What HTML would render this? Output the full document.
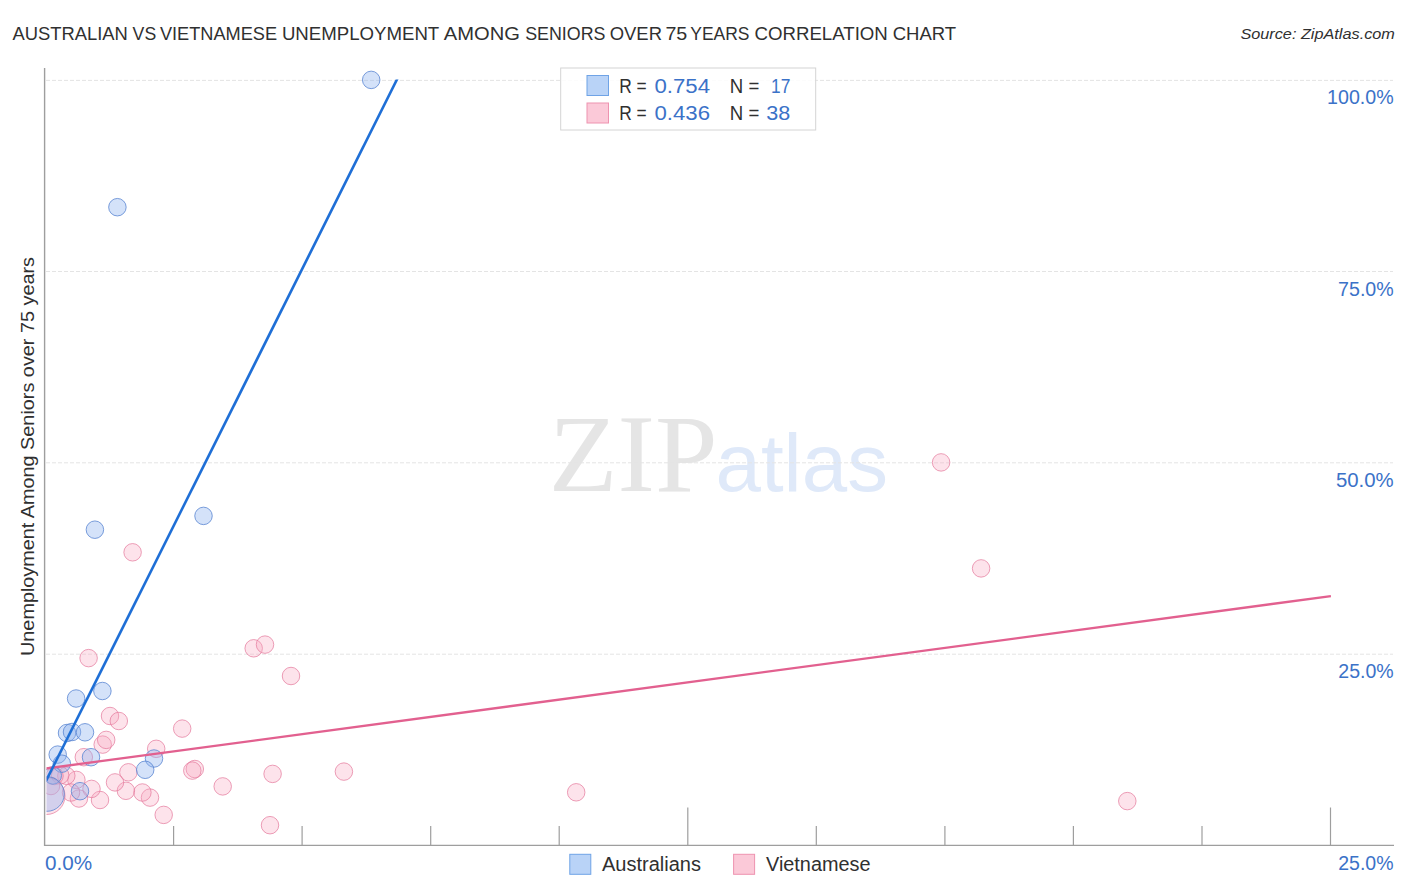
<!DOCTYPE html>
<html><head><meta charset="utf-8"><title>Australian vs Vietnamese Unemployment Among Seniors over 75 years Correlation Chart</title>
<style>
html,body{margin:0;padding:0;background:#fff;}
body{width:1406px;height:892px;overflow:hidden;font-family:"Liberation Sans",sans-serif;}
svg{display:block;}
text{font-family:"Liberation Sans",sans-serif;}
.serif{font-family:"Liberation Serif",serif;}
</style></head><body>
<svg width="1406" height="892" viewBox="0 0 1406 892">
<rect width="1406" height="892" fill="#ffffff"/>
<defs><clipPath id="top"><rect x="46.5" y="79.6" width="1350" height="770"/></clipPath><clipPath id="plot"><rect x="46.5" y="60" width="1350" height="784.5"/></clipPath></defs>

<text y="40" font-size="18.8" fill="#303030">
<tspan x="12.4" textLength="115.4" lengthAdjust="spacingAndGlyphs">AUSTRALIAN</tspan> 
<tspan x="132.6" textLength="23.6" lengthAdjust="spacingAndGlyphs">VS</tspan> 
<tspan x="159.9" textLength="117.2" lengthAdjust="spacingAndGlyphs">VIETNAMESE</tspan> 
<tspan x="281.9" textLength="157.0" lengthAdjust="spacingAndGlyphs">UNEMPLOYMENT</tspan> 
<tspan x="443.8" textLength="76.1" lengthAdjust="spacingAndGlyphs">AMONG</tspan> 
<tspan x="525.2" textLength="80.3" lengthAdjust="spacingAndGlyphs">SENIORS</tspan> 
<tspan x="609.7" textLength="52.3" lengthAdjust="spacingAndGlyphs">OVER</tspan> 
<tspan x="665.4" textLength="21.9" lengthAdjust="spacingAndGlyphs">75</tspan> 
<tspan x="690.3" textLength="59.2" lengthAdjust="spacingAndGlyphs">YEARS</tspan> 
<tspan x="754.5" textLength="133.3" lengthAdjust="spacingAndGlyphs">CORRELATION</tspan> 
<tspan x="892.7" textLength="63.4" lengthAdjust="spacingAndGlyphs">CHART</tspan>
</text>
<text x="1240.4" y="39" font-size="15.2" font-style="italic" fill="#303030" textLength="154.5" lengthAdjust="spacingAndGlyphs">Source: ZipAtlas.com</text>
<text class="serif" x="548.8" y="490.5" font-size="110" fill="#e5e5e5" textLength="168.8" lengthAdjust="spacingAndGlyphs">ZIP</text>
<text x="715.5" y="491" font-size="81" fill="#dfe9f9" textLength="172.5" lengthAdjust="spacingAndGlyphs">atlas</text>
<line x1="46" x2="1393" y1="80.4" y2="80.4" stroke="#e4e4e4" stroke-width="1" stroke-dasharray="4,2"/>
<line x1="46" x2="1393" y1="271.5" y2="271.5" stroke="#e4e4e4" stroke-width="1" stroke-dasharray="4,2"/>
<line x1="46" x2="1393" y1="462.8" y2="462.8" stroke="#e4e4e4" stroke-width="1" stroke-dasharray="4,2"/>
<line x1="46" x2="1393" y1="654.2" y2="654.2" stroke="#e4e4e4" stroke-width="1" stroke-dasharray="4,2"/>
<line x1="44.6" x2="44.6" y1="68" y2="846" stroke="#9e9e9e" stroke-width="1.4"/>
<line x1="44" x2="1394" y1="845.4" y2="845.4" stroke="#9e9e9e" stroke-width="1.4"/>
<line x1="173.6" x2="173.6" y1="826" y2="845" stroke="#9e9e9e" stroke-width="1.2"/>
<line x1="302.1" x2="302.1" y1="826" y2="845" stroke="#9e9e9e" stroke-width="1.2"/>
<line x1="430.7" x2="430.7" y1="826" y2="845" stroke="#9e9e9e" stroke-width="1.2"/>
<line x1="559.2" x2="559.2" y1="826" y2="845" stroke="#9e9e9e" stroke-width="1.2"/>
<line x1="687.8" x2="687.8" y1="807.5" y2="845" stroke="#9e9e9e" stroke-width="1.2"/>
<line x1="816.3" x2="816.3" y1="826" y2="845" stroke="#9e9e9e" stroke-width="1.2"/>
<line x1="944.9" x2="944.9" y1="826" y2="845" stroke="#9e9e9e" stroke-width="1.2"/>
<line x1="1073.4" x2="1073.4" y1="826" y2="845" stroke="#9e9e9e" stroke-width="1.2"/>
<line x1="1202.0" x2="1202.0" y1="826" y2="845" stroke="#9e9e9e" stroke-width="1.2"/>
<line x1="1330.5" x2="1330.5" y1="807.5" y2="845" stroke="#9e9e9e" stroke-width="1.2"/>
<text transform="translate(34.2,656) rotate(-90)" font-size="19" fill="#303030" textLength="399" lengthAdjust="spacingAndGlyphs">Unemployment Among Seniors over 75 years</text>
<text x="1327.1" y="104.3" font-size="19.5" fill="#3b72c8" textLength="66.6" lengthAdjust="spacingAndGlyphs">100.0%</text>
<text x="1338.1" y="295.5" font-size="19.5" fill="#3b72c8" textLength="55.6" lengthAdjust="spacingAndGlyphs">75.0%</text>
<text x="1335.9" y="486.8" font-size="19.5" fill="#3b72c8" textLength="57.8" lengthAdjust="spacingAndGlyphs">50.0%</text>
<text x="1338.3" y="678" font-size="19.5" fill="#3b72c8" textLength="55.4" lengthAdjust="spacingAndGlyphs">25.0%</text>
<text x="45" y="870" font-size="19.5" fill="#3b72c8" textLength="47.2" lengthAdjust="spacingAndGlyphs">0.0%</text>
<text x="1393.5" y="870" font-size="19.5" fill="#3b72c8" text-anchor="end">25.0%</text>
<g clip-path="url(#plot)">
<circle cx="941.1" cy="462.4" r="8.75" fill="#f9a8c0" fill-opacity="0.32" stroke="#e57a9c" stroke-opacity="0.72" stroke-width="1"/>
<circle cx="981.1" cy="568.4" r="8.75" fill="#f9a8c0" fill-opacity="0.32" stroke="#e57a9c" stroke-opacity="0.72" stroke-width="1"/>
<circle cx="1127.3" cy="801.1" r="8.75" fill="#f9a8c0" fill-opacity="0.32" stroke="#e57a9c" stroke-opacity="0.72" stroke-width="1"/>
<circle cx="576.2" cy="792.3" r="8.75" fill="#f9a8c0" fill-opacity="0.32" stroke="#e57a9c" stroke-opacity="0.72" stroke-width="1"/>
<circle cx="343.9" cy="771.6" r="8.75" fill="#f9a8c0" fill-opacity="0.32" stroke="#e57a9c" stroke-opacity="0.72" stroke-width="1"/>
<circle cx="272.6" cy="773.9" r="8.75" fill="#f9a8c0" fill-opacity="0.32" stroke="#e57a9c" stroke-opacity="0.72" stroke-width="1"/>
<circle cx="270" cy="825.2" r="8.75" fill="#f9a8c0" fill-opacity="0.32" stroke="#e57a9c" stroke-opacity="0.72" stroke-width="1"/>
<circle cx="222.7" cy="786.4" r="8.75" fill="#f9a8c0" fill-opacity="0.32" stroke="#e57a9c" stroke-opacity="0.72" stroke-width="1"/>
<circle cx="194.8" cy="769" r="8.75" fill="#f9a8c0" fill-opacity="0.32" stroke="#e57a9c" stroke-opacity="0.72" stroke-width="1"/>
<circle cx="192.3" cy="770.6" r="8.75" fill="#f9a8c0" fill-opacity="0.32" stroke="#e57a9c" stroke-opacity="0.72" stroke-width="1"/>
<circle cx="182.2" cy="728.6" r="8.75" fill="#f9a8c0" fill-opacity="0.32" stroke="#e57a9c" stroke-opacity="0.72" stroke-width="1"/>
<circle cx="163.7" cy="814.9" r="8.75" fill="#f9a8c0" fill-opacity="0.32" stroke="#e57a9c" stroke-opacity="0.72" stroke-width="1"/>
<circle cx="156.2" cy="748.8" r="8.75" fill="#f9a8c0" fill-opacity="0.32" stroke="#e57a9c" stroke-opacity="0.72" stroke-width="1"/>
<circle cx="150" cy="797.6" r="8.75" fill="#f9a8c0" fill-opacity="0.32" stroke="#e57a9c" stroke-opacity="0.72" stroke-width="1"/>
<circle cx="142.4" cy="792.5" r="8.75" fill="#f9a8c0" fill-opacity="0.32" stroke="#e57a9c" stroke-opacity="0.72" stroke-width="1"/>
<circle cx="128.4" cy="772.3" r="8.75" fill="#f9a8c0" fill-opacity="0.32" stroke="#e57a9c" stroke-opacity="0.72" stroke-width="1"/>
<circle cx="125.9" cy="790.8" r="8.75" fill="#f9a8c0" fill-opacity="0.32" stroke="#e57a9c" stroke-opacity="0.72" stroke-width="1"/>
<circle cx="115" cy="782.4" r="8.75" fill="#f9a8c0" fill-opacity="0.32" stroke="#e57a9c" stroke-opacity="0.72" stroke-width="1"/>
<circle cx="100" cy="800" r="8.75" fill="#f9a8c0" fill-opacity="0.32" stroke="#e57a9c" stroke-opacity="0.72" stroke-width="1"/>
<circle cx="91.5" cy="788.9" r="8.75" fill="#f9a8c0" fill-opacity="0.32" stroke="#e57a9c" stroke-opacity="0.72" stroke-width="1"/>
<circle cx="78.9" cy="798.5" r="8.75" fill="#f9a8c0" fill-opacity="0.32" stroke="#e57a9c" stroke-opacity="0.72" stroke-width="1"/>
<circle cx="76.4" cy="779.9" r="8.75" fill="#f9a8c0" fill-opacity="0.32" stroke="#e57a9c" stroke-opacity="0.72" stroke-width="1"/>
<circle cx="83.8" cy="757.2" r="8.75" fill="#f9a8c0" fill-opacity="0.32" stroke="#e57a9c" stroke-opacity="0.72" stroke-width="1"/>
<circle cx="102.7" cy="744.6" r="8.75" fill="#f9a8c0" fill-opacity="0.32" stroke="#e57a9c" stroke-opacity="0.72" stroke-width="1"/>
<circle cx="106.2" cy="739.9" r="8.75" fill="#f9a8c0" fill-opacity="0.32" stroke="#e57a9c" stroke-opacity="0.72" stroke-width="1"/>
<circle cx="110" cy="716" r="8.75" fill="#f9a8c0" fill-opacity="0.32" stroke="#e57a9c" stroke-opacity="0.72" stroke-width="1"/>
<circle cx="118.8" cy="721" r="8.75" fill="#f9a8c0" fill-opacity="0.32" stroke="#e57a9c" stroke-opacity="0.72" stroke-width="1"/>
<circle cx="88.6" cy="658.1" r="8.75" fill="#f9a8c0" fill-opacity="0.32" stroke="#e57a9c" stroke-opacity="0.72" stroke-width="1"/>
<circle cx="132.6" cy="552.3" r="8.75" fill="#f9a8c0" fill-opacity="0.32" stroke="#e57a9c" stroke-opacity="0.72" stroke-width="1"/>
<circle cx="253.7" cy="648.3" r="8.75" fill="#f9a8c0" fill-opacity="0.32" stroke="#e57a9c" stroke-opacity="0.72" stroke-width="1"/>
<circle cx="265" cy="644.6" r="8.75" fill="#f9a8c0" fill-opacity="0.32" stroke="#e57a9c" stroke-opacity="0.72" stroke-width="1"/>
<circle cx="291" cy="676" r="8.75" fill="#f9a8c0" fill-opacity="0.32" stroke="#e57a9c" stroke-opacity="0.72" stroke-width="1"/>
<circle cx="66.3" cy="775.8" r="8.75" fill="#f9a8c0" fill-opacity="0.32" stroke="#e57a9c" stroke-opacity="0.72" stroke-width="1"/>
<circle cx="60.2" cy="775.3" r="8.75" fill="#f9a8c0" fill-opacity="0.32" stroke="#e57a9c" stroke-opacity="0.72" stroke-width="1"/>
<circle cx="54.5" cy="776" r="8.75" fill="#f9a8c0" fill-opacity="0.32" stroke="#e57a9c" stroke-opacity="0.72" stroke-width="1"/>
<circle cx="51" cy="786" r="8.75" fill="#f9a8c0" fill-opacity="0.32" stroke="#e57a9c" stroke-opacity="0.72" stroke-width="1"/>
<circle cx="71" cy="792.5" r="8.75" fill="#f9a8c0" fill-opacity="0.32" stroke="#e57a9c" stroke-opacity="0.72" stroke-width="1"/>
<circle cx="46.5" cy="796" r="18.5" fill="#f9a8c0" fill-opacity="0.32" stroke="#e57a9c" stroke-opacity="0.72" stroke-width="1"/>
<circle cx="371.2" cy="79.9" r="8.75" fill="#8fb2f0" fill-opacity="0.38" stroke="#5a86d2" stroke-opacity="0.8" stroke-width="1"/>
<circle cx="117.4" cy="207.2" r="8.75" fill="#8fb2f0" fill-opacity="0.38" stroke="#5a86d2" stroke-opacity="0.8" stroke-width="1"/>
<circle cx="94.9" cy="529.7" r="8.75" fill="#8fb2f0" fill-opacity="0.38" stroke="#5a86d2" stroke-opacity="0.8" stroke-width="1"/>
<circle cx="203.5" cy="515.9" r="8.75" fill="#8fb2f0" fill-opacity="0.38" stroke="#5a86d2" stroke-opacity="0.8" stroke-width="1"/>
<circle cx="76.1" cy="698.5" r="8.75" fill="#8fb2f0" fill-opacity="0.38" stroke="#5a86d2" stroke-opacity="0.8" stroke-width="1"/>
<circle cx="102.4" cy="691" r="8.75" fill="#8fb2f0" fill-opacity="0.38" stroke="#5a86d2" stroke-opacity="0.8" stroke-width="1"/>
<circle cx="67" cy="733" r="8.75" fill="#8fb2f0" fill-opacity="0.38" stroke="#5a86d2" stroke-opacity="0.8" stroke-width="1"/>
<circle cx="72" cy="732" r="8.75" fill="#8fb2f0" fill-opacity="0.38" stroke="#5a86d2" stroke-opacity="0.8" stroke-width="1"/>
<circle cx="85" cy="732.3" r="8.75" fill="#8fb2f0" fill-opacity="0.38" stroke="#5a86d2" stroke-opacity="0.8" stroke-width="1"/>
<circle cx="57.7" cy="754.6" r="8.75" fill="#8fb2f0" fill-opacity="0.38" stroke="#5a86d2" stroke-opacity="0.8" stroke-width="1"/>
<circle cx="61.8" cy="763.7" r="8.75" fill="#8fb2f0" fill-opacity="0.38" stroke="#5a86d2" stroke-opacity="0.8" stroke-width="1"/>
<circle cx="91" cy="757.2" r="8.75" fill="#8fb2f0" fill-opacity="0.38" stroke="#5a86d2" stroke-opacity="0.8" stroke-width="1"/>
<circle cx="154" cy="758.5" r="8.75" fill="#8fb2f0" fill-opacity="0.38" stroke="#5a86d2" stroke-opacity="0.8" stroke-width="1"/>
<circle cx="145.2" cy="769.8" r="8.75" fill="#8fb2f0" fill-opacity="0.38" stroke="#5a86d2" stroke-opacity="0.8" stroke-width="1"/>
<circle cx="80" cy="791.2" r="8.75" fill="#8fb2f0" fill-opacity="0.38" stroke="#5a86d2" stroke-opacity="0.8" stroke-width="1"/>
<circle cx="52.8" cy="775.5" r="8.75" fill="#8fb2f0" fill-opacity="0.38" stroke="#5a86d2" stroke-opacity="0.8" stroke-width="1"/>
<circle cx="47" cy="794" r="17.3" fill="#8fb2f0" fill-opacity="0.38" stroke="#5a86d2" stroke-opacity="0.8" stroke-width="1"/>
<line x1="45" y1="768.6" x2="1330.9" y2="596.1" stroke="#e2608f" stroke-width="2.3"/>
<line x1="46" y1="781" x2="399.7" y2="74" stroke="#1f6fd6" stroke-width="2.6" clip-path="url(#top)"/>
</g>
<rect x="560.7" y="68" width="255" height="62" fill="#ffffff" fill-opacity="0.85" stroke="#d4d4d4" stroke-width="1"/>
<rect x="587" y="75.5" width="21.5" height="20" fill="#b9d3f7" stroke="#6fa3e6" stroke-width="1"/>
<rect x="587" y="103" width="21.5" height="20" fill="#fbc9d8" stroke="#ee93b0" stroke-width="1"/>
<text x="619.2" y="93.2" font-size="20" fill="#303030" textLength="27.5" lengthAdjust="spacingAndGlyphs">R =</text>
<text x="654.5" y="93.2" font-size="20" fill="#3b72c8" textLength="55.5" lengthAdjust="spacingAndGlyphs">0.754</text>
<text x="729.8" y="93.2" font-size="20" fill="#303030" textLength="29.5" lengthAdjust="spacingAndGlyphs">N =</text>
<text x="771.0" y="93.2" font-size="20" fill="#3b72c8" textLength="19.3" lengthAdjust="spacingAndGlyphs">17</text>
<text x="619.2" y="119.8" font-size="20" fill="#303030" textLength="27.5" lengthAdjust="spacingAndGlyphs">R =</text>
<text x="654.5" y="119.8" font-size="20" fill="#3b72c8" textLength="55.5" lengthAdjust="spacingAndGlyphs">0.436</text>
<text x="729.8" y="119.8" font-size="20" fill="#303030" textLength="29.5" lengthAdjust="spacingAndGlyphs">N =</text>
<text x="766.3" y="119.8" font-size="20" fill="#3b72c8" textLength="24.0" lengthAdjust="spacingAndGlyphs">38</text>
<rect x="569.8" y="854.3" width="21" height="20" fill="#b9d3f7" stroke="#6fa3e6" stroke-width="1"/>
<text x="602" y="871" font-size="19.5" fill="#303030" textLength="99" lengthAdjust="spacingAndGlyphs">Australians</text>
<rect x="733.6" y="854.3" width="21" height="20" fill="#fbc9d8" stroke="#ee93b0" stroke-width="1"/>
<text x="766" y="871" font-size="19.5" fill="#303030" textLength="104.5" lengthAdjust="spacingAndGlyphs">Vietnamese</text>
</svg></body></html>
